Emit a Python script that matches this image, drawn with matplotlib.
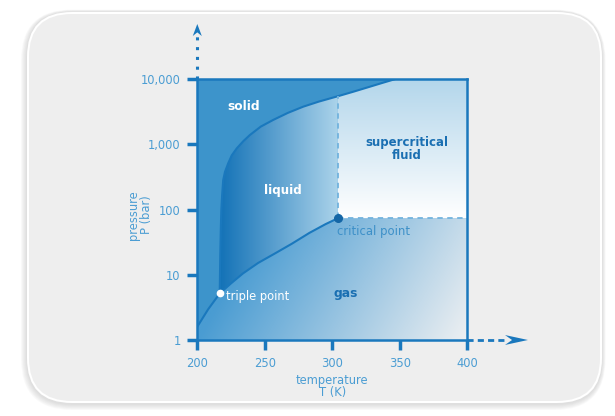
import numpy as np
import matplotlib.pyplot as plt
from matplotlib.patches import FancyBboxPatch, Polygon
from matplotlib.colors import LinearSegmentedColormap

# CO2 phase boundaries, temperature in K, pressure in bar
melt_T = [216.6, 217.0, 217.4, 217.8, 218.4, 219.2, 220.5, 222.9, 225.5, 229.2, 234.0,
          239.0, 247.0, 256.2, 267.0, 278.4, 290.0, 304.1, 315.0, 327.8, 337.0, 346.0]
melt_P = [5.18, 20, 50, 100, 170, 285, 380, 515, 680, 870, 1120,
          1400, 1880, 2380, 3050, 3800, 4550, 5500, 6400, 7700, 8800, 10000]
boil_T = [216.6, 225.0, 233.8, 245.0, 257.0, 270.0, 283.0, 295.0, 304.1]
boil_P = [5.18, 7.4, 10.5, 15.2, 21.0, 30.0, 44.0, 60.0, 73.8]
subl_T = [200.0, 208.0, 216.6]
subl_P = [1.6, 2.95, 5.18]
triple_T, triple_P = 216.6, 5.18
crit_T, crit_P = 304.1, 73.8

temp_ticks = [200, 250, 300, 350, 400]
pres_ticks = [1, 10, 100, 1000, 10000]
pres_labels = ['1', '10', '100', '1,000', '10,000']

blue = '#1a78bd'
text_blue = '#4b9dd3'

fig = plt.figure(figsize=(6.15, 4.16), dpi=100)
fig.patch.set_facecolor('white')


def card(x0, y0, x1, y1, r, **kw):
    # rounded rectangle given in figure pixels
    p = FancyBboxPatch((x0 / 100, y0 / 100), (x1 - x0) / 100, (y1 - y0) / 100,
                       boxstyle=f"round,pad=0,rounding_size={r / 100}",
                       transform=fig.dpi_scale_trans, zorder=-10, lw=0, **kw)
    fig.add_artist(p)


# soft shadow, white rim and grey face of the card
for g in range(6, 0, -1):
    card(27 - g, 12 - g, 602 + g * 0.6, 404 + g * 0.4, 45 + g, fc='#808080', alpha=0.045)
card(27, 13, 602, 404, 45, fc='white')
card(29, 15, 600, 402, 43, fc='#eeeeee')

ax = fig.add_axes([0.3208, 0.1827, 0.4393, 0.6267])
ax.set_xlim(200, 400)
ax.set_ylim(0, 4)
ax.set_facecolor('#3d94cb')  # solid phase

lm_T, lm_P = np.array(melt_T), np.log10(melt_P)
lb_T, lb_P = np.array(boil_T), np.log10(boil_P)
ls_T, ls_P = np.array(subl_T), np.log10(subl_P)
lc = np.log10(crit_P)

uu, vv = np.meshgrid(np.linspace(0, 1, 400), np.linspace(0, 1, 400))
TT = 200 + 200 * uu
PP = 4 * vv
ext = [200, 400, 0, 4]


def shaded(verts, field, c0, c1):
    cmap = LinearSegmentedColormap.from_list('g', [c0, c1])
    poly = Polygon(verts, closed=True, fc='none', ec='none')
    ax.add_patch(poly)
    im = ax.imshow(np.clip(field, 0, 1), cmap=cmap, vmin=0, vmax=1, extent=ext,
                   origin='lower', aspect='auto', interpolation='bilinear', zorder=1)
    im.set_clip_path(poly)


# gas
gas = np.vstack([[[200, 0]], np.column_stack([ls_T, ls_P]),
                 np.column_stack([lb_T[1:], lb_P[1:]]), [[400, lc], [400, 0]]])
shaded(gas, uu - 0.25 * PP / lc, '#4a9cd2', '#eef0f2')

# liquid
k = melt_T.index(crit_T)
liq = np.vstack([np.column_stack([lm_T[:k + 1], lm_P[:k + 1]]),
                 np.column_stack([lb_T[::-1], lb_P[::-1]])])
shaded(liq, (TT - triple_T) / (crit_T - triple_T), '#1372b7', '#abd3ea')

# supercritical fluid
sc = np.vstack([np.column_stack([lm_T[k:], lm_P[k:]]), [[400, 4], [400, lc], [crit_T, lc]]])
shaded(sc, (PP - lc) / (4 - lc), '#ffffff', '#b3d6eb')

# boundaries
ax.plot(melt_T, lm_P, color=blue, lw=1.5, zorder=3)
ax.plot(boil_T, lb_P, color=blue, lw=1.5, zorder=3)
ax.plot(subl_T, ls_P, color=blue, lw=1.5, zorder=3)
ax.plot([crit_T, crit_T], [lc, lm_P[k]], color='#72b3de', lw=1.3, ls=(0, (3, 2.5)), zorder=3)
ax.plot([crit_T, 400], [lc, lc], color='#72b3de', lw=1.3, ls=(0, (3, 2.5)), zorder=3)
ax.plot(crit_T, lc, 'o', ms=5.5, color='#1466a6', zorder=4)
ax.plot(triple_T, np.log10(triple_P), 'o', ms=4.5, color='white', zorder=4)

# region labels
ax.text(234.6, 3.59, 'solid', color='white', fontsize=8.8, fontweight='bold', ha='center', va='center', zorder=5)
ax.text(263.4, 2.30, 'liquid', color='white', fontsize=8.6, fontweight='bold', ha='center', va='center', zorder=5)
ax.text(355, 2.93, 'supercritical\nfluid', color='#1a6fb2', fontsize=8.5, fontweight='bold',
        ha='center', va='center', linespacing=1.05, zorder=5)
ax.text(310, 0.72, 'gas', color='#1a6fb2', fontsize=8.8, fontweight='bold', ha='center', va='center', zorder=5)
ax.text(303.5, 1.66, 'critical point', color='#3d90c8', fontsize=8.4, ha='left', va='center', zorder=5)
ax.text(221.5, 0.66, 'triple point', color='white', fontsize=8.3, ha='left', va='center', zorder=5)

for s in ax.spines.values():
    s.set_color(blue)
    s.set_linewidth(1.8)
    s.set_zorder(6)

ax.set_xticks(temp_ticks)
ax.set_yticks(np.log10(pres_ticks))
ax.set_yticklabels(pres_labels)
ax.tick_params(direction='out', length=7, width=2.5, color=blue, labelcolor=text_blue,
               labelsize=8.3)
ax.tick_params(axis='x', pad=5)
ax.tick_params(axis='y', pad=5)
ax.set_xlabel('temperature\nT (K)', color=text_blue, fontsize=8.3, labelpad=3, linespacing=0.95)
ax.set_ylabel('pressure\nP (bar)', color=text_blue, fontsize=8.3, linespacing=0.95)
ax.yaxis.set_label_coords(-0.165, 0.48)

# dashed axis extensions with arrowheads
ax.plot([0, 0], [1.0, 1.17], transform=ax.transAxes, clip_on=False, color=blue,
        lw=2.2, ls=(0, (1, 2.2)), zorder=6)
ax.add_patch(Polygon([[0, 1.212], [0.0167, 1.166], [0, 1.18], [-0.0167, 1.166]], closed=True,
                     transform=ax.transAxes, clip_on=False, fc=blue, ec='none', zorder=6))
ax.plot([1.0, 1.14], [0, 0], transform=ax.transAxes, clip_on=False, color=blue,
        lw=2, ls=(0, (2.2, 1.5)), zorder=6)
ax.add_patch(Polygon([[1.224, 0], [1.139, 0.019], [1.165, 0], [1.139, -0.019]], closed=True,
                     transform=ax.transAxes, clip_on=False, fc=blue, ec='none', zorder=6))

plt.savefig('out.png', dpi=100)
